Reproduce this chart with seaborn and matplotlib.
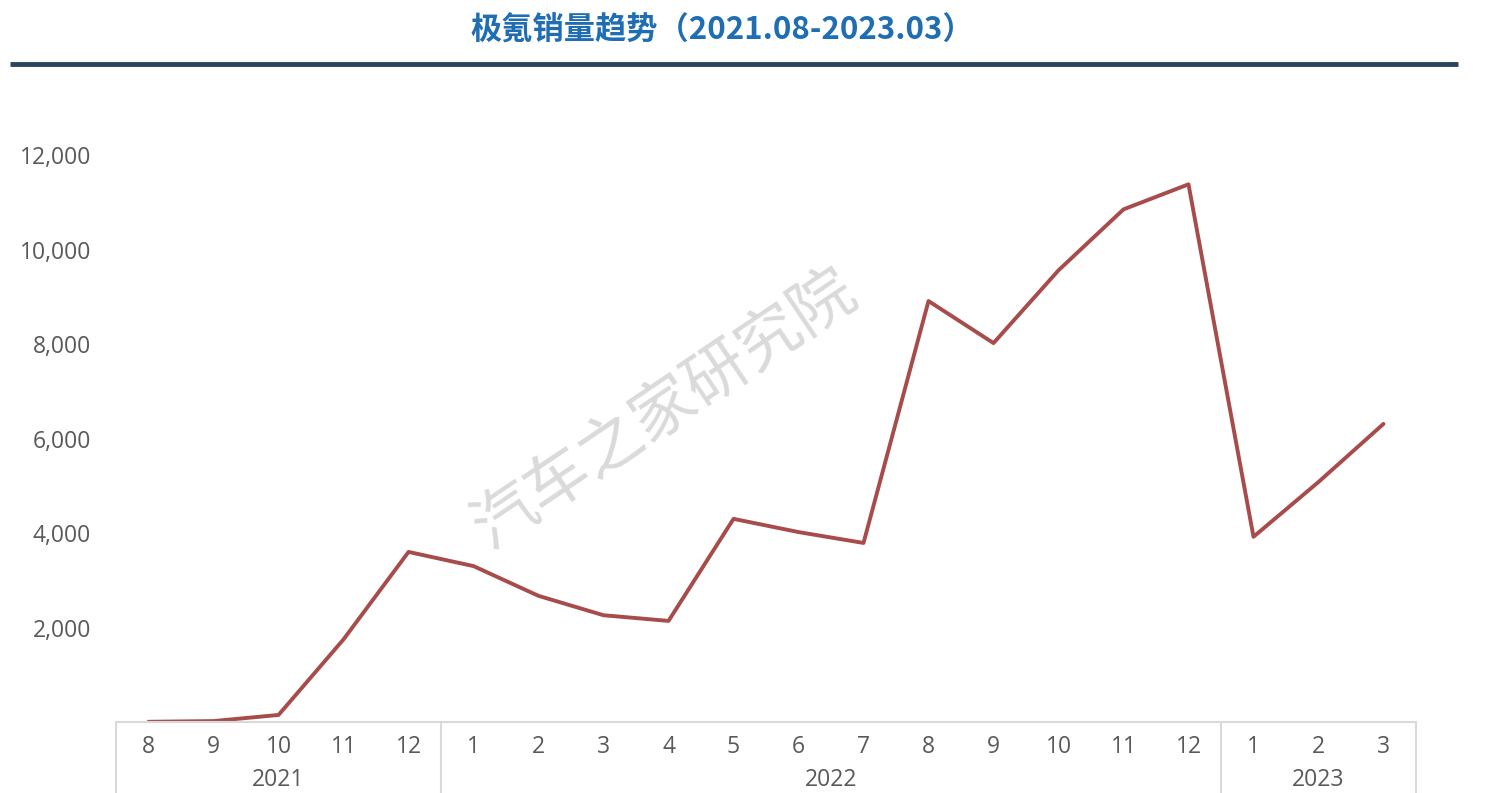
import numpy as np
import pandas as pd
import matplotlib
matplotlib.use("Agg")
import matplotlib.pyplot as plt
import seaborn as sns

# monthly sales, 2021.08 - 2023.03
months = ["8", "9", "10", "11", "12",
          "1", "2", "3", "4", "5", "6", "7", "8", "9", "10", "11", "12",
          "1", "2", "3"]
years = ["2021", "2022", "2023"]
year_counts = [5, 12, 3]
sales = [5, 20, 150, 1750, 3600,
         3300, 2670, 2260, 2140, 4300, 4020, 3790, 8910, 8020, 9560, 10850, 11380,
         3920, 5080, 6310]

sns.set_theme(style="white")
plt.rcParams['font.family'] = ['Open Sans', 'Noto Sans CJK SC', 'DejaVu Sans']

df = pd.DataFrame({"pos": np.arange(len(sales)), "sales": sales})

fig = plt.figure(figsize=(14.88, 7.93), dpi=100)
ax = fig.add_axes([0.078, 0.0895, 0.8736, 0.7448])

sns.lineplot(data=df, x="pos", y="sales", ax=ax, color="#a84b4b", linewidth=2.8)

ax.set_xlim(-0.5, len(sales) - 0.5)
ax.set_ylim(0, 12500)
ticks = [2000, 4000, 6000, 8000, 10000, 12000]
ax.set_yticks(ticks)
ax.set_yticklabels([f"{v:,}" for v in ticks], fontsize=16.5, color="#595959")
ax.tick_params(axis="y", length=0, pad=18)
ax.set_xticks([])
ax.set_xlabel("")
ax.set_ylabel("")
for s in ax.spines.values():
    s.set_visible(False)

# category table under the axis
tr = ax.get_xaxis_transform()
grid_c = "#d9d9d9"
ax.plot([-0.5, len(sales) - 0.5], [0, 0], color=grid_c, lw=1.5, transform=tr, clip_on=False)
bounds = np.concatenate([[0], np.cumsum(year_counts)]) - 0.5
for b in bounds:
    ax.plot([b, b], [0, -0.2], color=grid_c, lw=1.5, transform=tr, clip_on=False)
for i, m in enumerate(months):
    ax.text(i, -0.042, m, transform=tr, ha="center", va="center",
            fontsize=16.5, color="#595959")
for k, y in enumerate(years):
    mid = (bounds[k] + bounds[k + 1]) / 2
    ax.text(mid, -0.098, y, transform=tr, ha="center", va="center",
            fontsize=16.5, color="#595959")

# watermark
fig.text(0.447, 0.483, "汽车之家研究院", rotation=34, ha="center", va="center",
         fontsize=46, color="#dadada", family=["Noto Sans CJK SC", "DejaVu Sans"],
         fontweight="light")

# title and rule
fig.text(0.4855, 0.962, "极氪销量趋势（2021.08-2023.03）", ha="center", va="center",
         fontsize=22.5, fontweight="bold", color="#1f6db3",
         family=["Noto Sans CJK SC", "DejaVu Sans"])
fig.add_artist(plt.Line2D([0.007, 0.98], [0.919, 0.919], color="#2b4560", lw=3.5,
                          solid_capstyle="butt"))

fig.savefig("out.png", dpi=100)
